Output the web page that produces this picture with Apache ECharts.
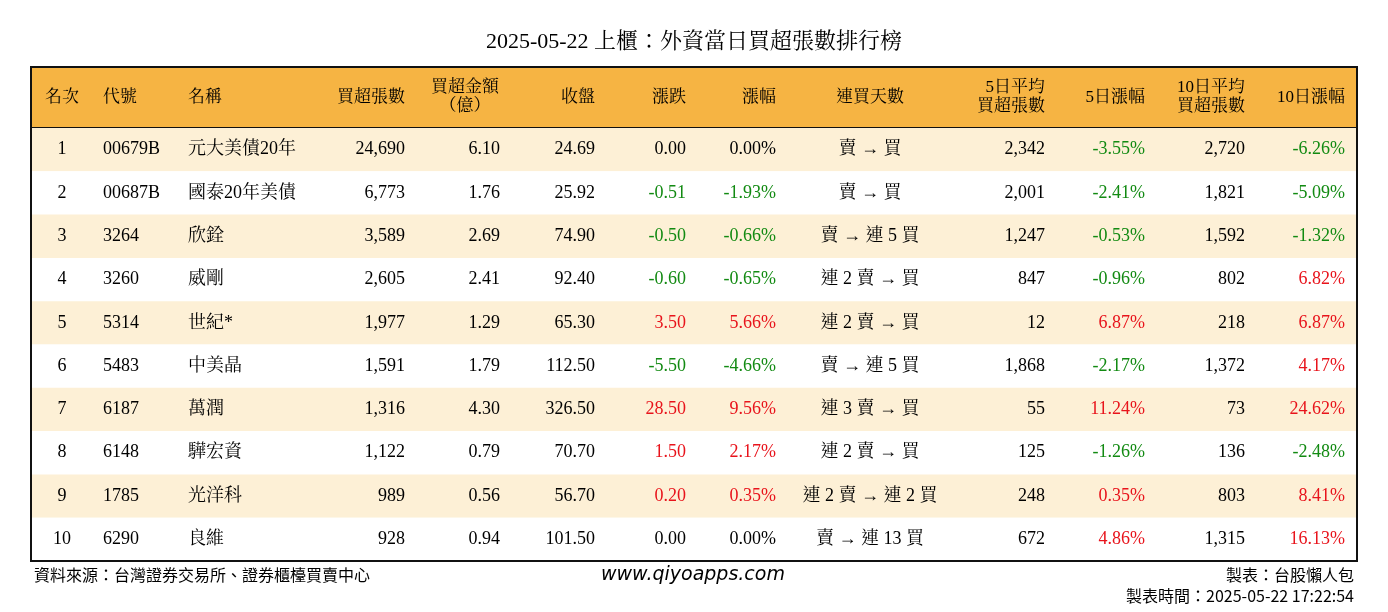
<!DOCTYPE html>
<html><head><meta charset="utf-8">
<script src="https://cdn.jsdelivr.net/npm/echarts@6/dist/echarts.min.js"></script>
<style>html,body{margin:0;background:#fff}#c{width:1388px;height:612px}</style>
</head><body><div id="c"></div>
<script>
var ranks = [1,2,3,4,5,6,7,8,9,10];
var codes = ['00679B','00687B','3264','3260','5314','5483','6187','6148','1785','6290'];
var names = ['元大美債20年','國泰20年美債','欣銓','威剛','世紀*','中美晶','萬潤','驊宏資','光洋科','良維'];
var buyVol = [24690,6773,3589,2605,1977,1591,1316,1122,989,928];
var buyAmt = [6.10,1.76,2.69,2.41,1.29,1.79,4.30,0.79,0.56,0.94];
var closes = [24.69,25.92,74.90,92.40,65.30,112.50,326.50,70.70,56.70,101.50];
var chg = [0.00,-0.51,-0.50,-0.60,3.50,-5.50,28.50,1.50,0.20,0.00];
var chgPct = [0.00,-1.93,-0.66,-0.65,5.66,-4.66,9.56,2.17,0.35,0.00];
var streak = ['賣 → 買','賣 → 買','賣 → 連 5 買','連 2 賣 → 買','連 2 賣 → 買','賣 → 連 5 買','連 3 賣 → 買','連 2 賣 → 買','連 2 賣 → 連 2 買','賣 → 連 13 買'];
var avg5 = [2342,2001,1247,847,12,1868,55,125,248,672];
var pct5 = [-3.55,-2.41,-0.53,-0.96,6.87,-2.17,11.24,-1.26,0.35,4.86];
var avg10 = [2720,1821,1592,802,218,1372,73,136,803,1315];
var pct10 = [-6.26,-5.09,-1.32,6.82,6.87,4.17,24.62,-2.48,8.41,16.13];
var headers = ['名次','代號','名稱','買超張數','買超金額\n（億）','收盤','漲跌','漲幅','連買天數','5日平均\n買超張數','5日漲幅','10日平均\n買超張數','10日漲幅'];

var HEAD = 61, ROW = 43.3, W = 1326;
var cols = [
  {x:31,a:'center'},{x:72,a:'left'},{x:157,a:'left'},{x:374,a:'right'},{x:469,a:'right',hx:434,ha:'center'},
  {x:564,a:'right'},{x:655,a:'right'},{x:745,a:'right'},{x:839,a:'center'},{x:1014,a:'right'},
  {x:1114,a:'right'},{x:1214,a:'right'},{x:1314,a:'right'}
];
var GREEN = '#128a12', RED = '#e8131b';
function fmtInt(v){ return v.toLocaleString('en-US'); }
function sc(v){ return v > 0 ? RED : (v < 0 ? GREEN : '#000'); }

var rows = [];
for (var i = 0; i < ranks.length; i++) {
  rows.push({value:[i], cells:[
    [String(ranks[i])],[codes[i]],[names[i]],[fmtInt(buyVol[i])],[buyAmt[i].toFixed(2)],[closes[i].toFixed(2)],
    [chg[i].toFixed(2), sc(chg[i])],[chgPct[i].toFixed(2)+'%', sc(chgPct[i])],[streak[i]],
    [fmtInt(avg5[i])],[pct5[i].toFixed(2)+'%', sc(pct5[i])],[fmtInt(avg10[i])],[pct10[i].toFixed(2)+'%', sc(pct10[i])]
  ]});
}
var FONT = '"Liberation Serif","Noto Serif CJK TC","Noto Sans CJK TC",serif';

function renderRow(params, api){
  var i = api.value(0);
  var d = rows[i];
  var top = api.coord([0, HEAD + i*ROW]);
  var bot = api.coord([W, HEAD + (i+1)*ROW]);
  var cy = (top[1]+bot[1])/2;
  var ch = [{type:'rect', shape:{x:top[0], y:top[1], width:bot[0]-top[0], height:bot[1]-top[1]},
    style:{fill: i%2===0 ? '#fdf0d6' : '#ffffff'}}];
  d.cells.forEach(function(c, k){
    var p = api.coord([cols[k].x, 0]);
    ch.push({type:'text', x:p[0], y:cy, style:{text:c[0], fill:c[1]||'#000', font:'18px '+FONT, align:cols[k].a, verticalAlign:'middle'}});
  });
  return {type:'group', children:ch};
}
function renderHead(params, api){
  var a = api.coord([0,0]), b = api.coord([W,HEAD]);
  var cy = (a[1]+b[1])/2;
  var ch = [{type:'rect', shape:{x:a[0],y:a[1],width:b[0]-a[0],height:b[1]-a[1]}, style:{fill:'#f6b443'}},
    {type:'line', shape:{x1:a[0],y1:b[1],x2:b[0],y2:b[1]}, style:{stroke:'#111',lineWidth:2}}];
  headers.forEach(function(h,k){
    var p = api.coord([cols[k].hx || cols[k].x, 0]);
    ch.push({type:'text', x:p[0], y:cy, style:{text:h, fill:'#000', font:'17px '+FONT, align:cols[k].ha||cols[k].a, verticalAlign:'middle', lineHeight:19}});
  });
  return {type:'group', children:ch};
}

var chart = echarts.init(document.getElementById('c'));
chart.setOption({
  animation:false,
  title:{text:'2025-05-22 上櫃：外資當日買超張數排行榜', left:'center', top:26,
    textStyle:{fontSize:22, fontWeight:'normal', fontFamily:FONT, color:'#000'}},
  grid:{left:31, right:31, top:67, bottom:51, show:true, borderColor:'#111', borderWidth:2, z:10},
  xAxis:{type:'value', min:0, max:W, show:false},
  yAxis:{type:'value', min:0, max:HEAD+ROW*10, inverse:true, show:false},
  series:[
    {type:'custom', renderItem:renderHead, data:[[0]], silent:true},
    {type:'custom', renderItem:renderRow, data:rows, silent:true}
  ],
  graphic:[
    {type:'text', left:34, top:567, style:{text:'資料來源：台灣證券交易所、證券櫃檯買賣中心', font:'16px "Noto Sans CJK TC"', fill:'#000'}},
    {type:'text', left:601, top:566, style:{text:'www.qiyoapps.com', font:'italic 19px "DejaVu Sans"', fill:'#000'}},
    {type:'text', right:34, top:567, style:{text:'製表：台股懶人包', font:'16px "Noto Sans CJK TC"', fill:'#000', align:'right'}},
    {type:'text', right:34, top:588, style:{text:'製表時間：2025-05-22 17:22:54', font:'16px "Noto Sans CJK TC"', fill:'#000', align:'right'}}
  ]
});
</script></body></html>
